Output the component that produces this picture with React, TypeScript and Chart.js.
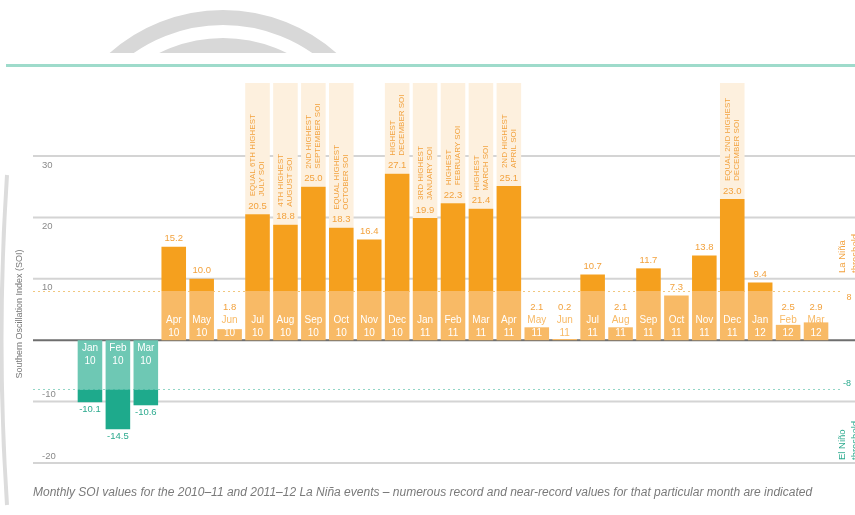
import { useEffect, useRef } from "react";
import { Chart, registerables } from "chart.js";

Chart.register(...registerables);

// Monthly Southern Oscillation Index, Jan 2010 – Mar 2012
const months = [
  "Jan", "Feb", "Mar", "Apr", "May", "Jun", "Jul", "Aug", "Sep", "Oct", "Nov", "Dec",
  "Jan", "Feb", "Mar", "Apr", "May", "Jun", "Jul", "Aug", "Sep", "Oct", "Nov", "Dec",
  "Jan", "Feb", "Mar",
];
const years = [
  "10", "10", "10", "10", "10", "10", "10", "10", "10", "10", "10", "10",
  "11", "11", "11", "11", "11", "11", "11", "11", "11", "11", "11", "11",
  "12", "12", "12",
];
const soiValues = [
  -10.1, -14.5, -10.6, 15.2, 10.0, 1.8, 20.5, 18.8, 25.0, 18.3, 16.4, 27.1,
  19.9, 22.3, 21.4, 25.1, 2.1, 0.2, 10.7, 2.1, 11.7, 7.3, 13.8, 23.0,
  9.4, 2.5, 2.9,
];

// Record / near-record months and their notes
const noteMonths = ["Jul 10", "Aug 10", "Sep 10", "Oct 10", "Dec 10", "Jan 11", "Feb 11", "Mar 11", "Apr 11", "Dec 11"];
const noteFirstLines = ["EQUAL 6TH HIGHEST", "4TH HIGHEST", "2ND HIGHEST", "EQUAL HIGHEST", "HIGHEST", "3RD HIGHEST", "HIGHEST", "HIGHEST", "2ND HIGHEST", "EQUAL 2ND HIGHEST"];
const noteSecondLines = ["JULY SOI", "AUGUST SOI", "SEPTEMBER SOI", "OCTOBER SOI", "DECEMBER SOI", "JANUARY SOI", "FEBRUARY SOI", "MARCH SOI", "APRIL SOI", "DECEMBER SOI"];

const axisTicks = [30, 20, 10, -10, -20];
const thresholds = [8, -8];

const ORANGE = "#F5A01E";
const ORANGE_LIGHT = "#F8BA66";
const ORANGE_TEXT = "#F2A23E";
const TEAL = "#1EAA8C";
const TEAL_LIGHT = "#6EC8B4";
const TEAL_TEXT = "#2BAA8E";
const FONT = '"Liberation Sans", Arial, sans-serif';

const categoryLabels = months.map((m, i) => `${m} ${years[i]}`);
const within = soiValues.map((v) => Math.sign(v) * Math.min(Math.abs(v), thresholds[0]));
const beyond = soiValues.map((v) => (Math.abs(v) > thresholds[0] ? v - Math.sign(v) * thresholds[0] : 0));

const GRID_LEFT = 33;

function rotatedText(ctx: CanvasRenderingContext2D, text: string, x: number, y: number) {
  ctx.save();
  ctx.translate(x, y);
  ctx.rotate(-Math.PI / 2);
  ctx.fillText(text, 0, 0);
  ctx.restore();
}

const soiDecor = {
  id: "soiDecor",
  beforeDatasetsDraw(chart: any) {
    const { ctx, scales } = chart;
    const y = scales.y;
    const W = chart.width;
    const meta = chart.getDatasetMeta(0);
    ctx.save();

    // faint grey rings behind the header
    ctx.save();
    ctx.beginPath();
    ctx.rect(0, 0, W, 53);
    ctx.clip();
    ctx.strokeStyle = "#d8d8d8";
    ctx.lineWidth = 15;
    ctx.beginPath();
    ctx.arc(223, 181, 163.5, 0, Math.PI * 2);
    ctx.stroke();
    ctx.beginPath();
    ctx.arc(223, 181, 135.5, 0, Math.PI * 2);
    ctx.stroke();
    ctx.restore();

    // soft grey edge on the left
    ctx.strokeStyle = "#dcdcdc";
    ctx.lineWidth = 4;
    ctx.beginPath();
    ctx.moveTo(7, 175);
    ctx.quadraticCurveTo(-4, 340, 7, 505);
    ctx.stroke();

    // teal header rule
    ctx.fillStyle = "#9edbcb";
    ctx.fillRect(6, 64, W - 6, 3);

    // horizontal gridlines
    ctx.strokeStyle = "#d4d4d4";
    ctx.lineWidth = 2;
    axisTicks.forEach((t) => {
      const py = y.getPixelForValue(t);
      ctx.beginPath();
      ctx.moveTo(GRID_LEFT, py);
      ctx.lineTo(W, py);
      ctx.stroke();
    });

    // threshold dotted lines
    ctx.lineWidth = 1;
    ctx.setLineDash([2, 3]);
    thresholds.forEach((t) => {
      const py = Math.round(y.getPixelForValue(t)) + 0.5;
      ctx.strokeStyle = t > 0 ? "#F1C77F" : "#93D6C6";
      ctx.beginPath();
      ctx.moveTo(GRID_LEFT, py);
      ctx.lineTo(840, py);
      ctx.stroke();
    });
    ctx.setLineDash([]);

    // zero line
    const zy = y.getPixelForValue(0);
    ctx.strokeStyle = "#6e6e6e";
    ctx.lineWidth = 2;
    ctx.beginPath();
    ctx.moveTo(GRID_LEFT, zy);
    ctx.lineTo(W, zy);
    ctx.stroke();

    // shaded columns behind the record notes
    ctx.fillStyle = "#FDF0DE";
    noteMonths.forEach((label) => {
      const i = categoryLabels.indexOf(label);
      const el = meta.data[i];
      const top = y.getPixelForValue(soiValues[i]);
      ctx.fillRect(el.x - el.width / 2, 83, el.width, top - 83);
    });

    ctx.restore();
  },
  afterDatasetsDraw(chart: any) {
    const { ctx, scales } = chart;
    const y = scales.y;
    const meta = chart.getDatasetMeta(0);
    const zy = y.getPixelForValue(0);
    ctx.save();
    ctx.textAlign = "center";
    ctx.textBaseline = "middle";

    soiValues.forEach((v, i) => {
      const el = meta.data[i];
      const cx = el.x;
      const end = y.getPixelForValue(v);
      if (v >= 0) {
        // value above the bar
        ctx.font = `9.5px ${FONT}`;
        ctx.fillStyle = ORANGE_TEXT;
        ctx.fillText(v.toFixed(1), cx, Math.min(end - 8, zy - 33));
        // month / year inside the bar
        ctx.font = `10px ${FONT}`;
        const l1 = zy - 20;
        const l2 = zy - 7;
        ctx.fillStyle = l1 > end + 3 ? "#ffffff" : ORANGE_LIGHT;
        ctx.fillText(months[i], cx, l1);
        ctx.fillStyle = l2 > end + 3 ? "#ffffff" : ORANGE_LIGHT;
        ctx.fillText(years[i], cx, l2);
      } else {
        ctx.font = `9.5px ${FONT}`;
        ctx.fillStyle = TEAL_TEXT;
        ctx.fillText(v.toFixed(1), cx, end + 7);
        ctx.font = `10px ${FONT}`;
        ctx.fillStyle = "#ffffff";
        ctx.fillText(months[i], cx, zy + 8);
        ctx.fillText(years[i], cx, zy + 21);
      }
    });

    // rotated record notes
    ctx.font = `8px ${FONT}`;
    ctx.fillStyle = ORANGE_TEXT;
    ctx.textAlign = "left";
    noteMonths.forEach((label, k) => {
      const i = categoryLabels.indexOf(label);
      const el = meta.data[i];
      const start = y.getPixelForValue(soiValues[i]) - 18;
      rotatedText(ctx, noteFirstLines[k], el.x - 4.5, start);
      rotatedText(ctx, noteSecondLines[k], el.x + 4.5, start);
    });

    // y tick labels
    ctx.font = `9.5px ${FONT}`;
    ctx.fillStyle = "#8a8a8a";
    ctx.textAlign = "left";
    axisTicks.forEach((t) => {
      const py = y.getPixelForValue(t);
      ctx.fillText(String(t), 42, t > 0 ? py + 9 : py - 7);
    });

    // y axis title
    ctx.font = `9px ${FONT}`;
    ctx.textAlign = "center";
    ctx.fillStyle = "#777777";
    rotatedText(ctx, "Southern Oscillation Index (SOI)", 20, 314);

    // threshold labels on the right
    ctx.font = `9px ${FONT}`;
    ctx.fillStyle = ORANGE_TEXT;
    ctx.textAlign = "center";
    ctx.fillText(String(thresholds[0]), 849, y.getPixelForValue(thresholds[0]) + 6);
    ctx.fillStyle = TEAL_TEXT;
    ctx.fillText(String(thresholds[1]), 847, y.getPixelForValue(thresholds[1]) - 6);
    ctx.textAlign = "left";
    ctx.font = `9.5px ${FONT}`;
    ctx.fillStyle = ORANGE_TEXT;
    rotatedText(ctx, "La Niña", 842, 273);
    rotatedText(ctx, "threshold", 855, 273);
    ctx.fillStyle = TEAL_TEXT;
    rotatedText(ctx, "El Niño", 842, 460);
    rotatedText(ctx, "threshold", 855, 460);

    // caption
    const caption =
      "Monthly SOI values for the 2010\u201311 and 2011\u201312 La Niña events \u2013 numerous record and near-record values for that particular month are indicated";
    ctx.font = `italic 10px ${FONT}`;
    const w = ctx.measureText(caption).width;
    const size = (10 * 779) / w;
    ctx.font = `italic ${size.toFixed(2)}px ${FONT}`;
    ctx.fillStyle = "#7a7a7a";
    ctx.textAlign = "left";
    ctx.fillText(caption, 33, 493);

    ctx.restore();
  },
};

export default function App() {
  const canvasRef = useRef<HTMLCanvasElement | null>(null);

  useEffect(() => {
    if (!canvasRef.current) return;
    const signColor = (pos: string, neg: string) => soiValues.map((v) => (v >= 0 ? pos : neg));
    const chart = new Chart(canvasRef.current, {
      type: "bar",
      data: {
        labels: categoryLabels,
        datasets: [
          {
            label: "Within threshold",
            data: within,
            backgroundColor: signColor(ORANGE_LIGHT, TEAL_LIGHT),
            borderWidth: 0,
            categoryPercentage: 1,
            barPercentage: 0.88,
          },
          {
            label: "Beyond threshold",
            data: beyond,
            backgroundColor: signColor(ORANGE, TEAL),
            borderWidth: 0,
            categoryPercentage: 1,
            barPercentage: 0.88,
          },
        ],
      },
      options: {
        responsive: false,
        animation: false,
        layout: { padding: { left: 76, right: 25, top: 156, bottom: 52 } },
        plugins: { legend: { display: false }, tooltip: { enabled: false } },
        scales: {
          x: { stacked: true, display: false },
          y: { stacked: true, display: false, min: -20, max: 30 },
        },
      },
      plugins: [soiDecor as any],
    });
    return () => chart.destroy();
  }, []);

  return (
    <div style={{ position: "absolute", left: 0, top: 0, width: 855, height: 515, background: "#fff" }}>
      <canvas ref={canvasRef} width={855} height={515} style={{ display: "block" }} />
    </div>
  );
}
